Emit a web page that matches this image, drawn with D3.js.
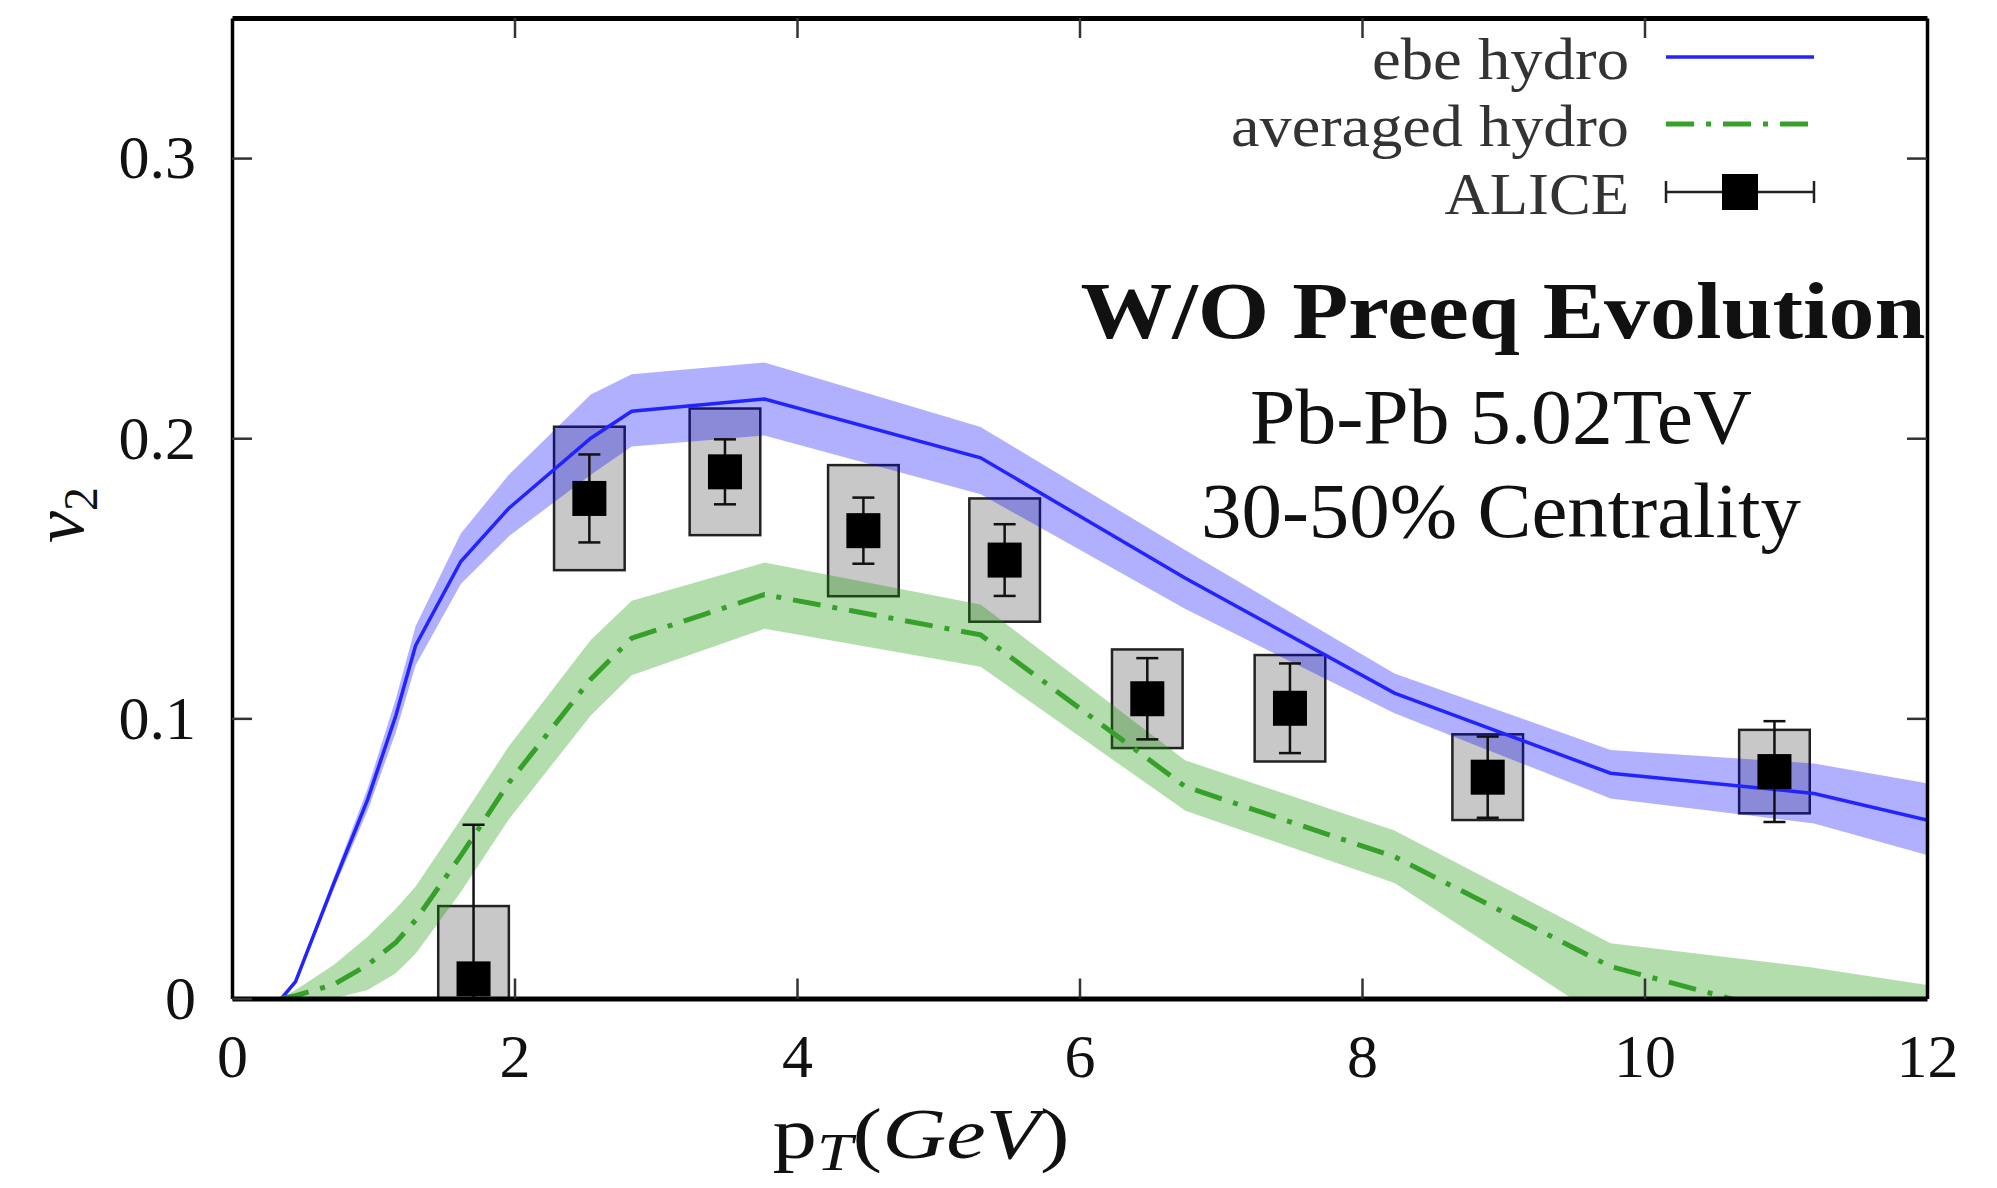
<!DOCTYPE html>
<html>
<head>
<meta charset="utf-8">
<script src="https://cdn.jsdelivr.net/npm/d3@7"></script>
<style>
  body { margin: 0; background: #fff; }
  svg { display: block; }
  text { font-family: "Liberation Serif", "Times New Roman", serif; }
</style>
</head>
<body>
<div id="chart"></div>
<script>
// hydro curves share one pT grid
const hydroPt = [0.35, 0.45, 0.72, 0.96, 1.16, 1.30, 1.62, 1.96, 2.54, 2.83, 3.77, 5.30, 6.75, 8.23, 9.76, 11.2, 12.0];
const ebeV2 = [0, 0.006, 0.041, 0.071, 0.101, 0.126, 0.156, 0.175, 0.200, 0.2096, 0.214, 0.193, 0.150, 0.109, 0.0804, 0.0732, 0.0637];
const ebeHi = [0, 0.007, 0.043, 0.075, 0.107, 0.133, 0.166, 0.187, 0.2156, 0.2228, 0.227, 0.204, 0.160, 0.116, 0.0887, 0.0839, 0.0768];
const ebeLo = [0, 0.005, 0.039, 0.067, 0.095, 0.119, 0.148, 0.165, 0.187, 0.197, 0.201, 0.180, 0.139, 0.1018, 0.0714, 0.0625, 0.0512];
const avgV2 = [0, 0.001, 0.005, 0.012, 0.020, 0.028, 0.051, 0.077, 0.114, 0.1286, 0.1442, 0.1298, 0.0756, 0.0506, 0.0114, -0.008, -0.019];
const avgHi = [0, 0.003, 0.012, 0.022, 0.032, 0.040, 0.064, 0.090, 0.128, 0.142, 0.1556, 0.1406, 0.085, 0.060, 0.0197, 0.011, 0.0048];
const avgLo = [0, 0, 0, 0.003, 0.009, 0.016, 0.038, 0.064, 0.101, 0.1154, 0.132, 0.1184, 0.067, 0.0412, -0.009, -0.02, -0.03];

// ALICE data
const alicePt = [1.71, 2.53, 3.49, 4.47, 5.47, 6.48, 7.49, 8.89, 10.92];
const aliceV2 = [0.007, 0.1785, 0.188, 0.167, 0.1565, 0.107, 0.1036, 0.079, 0.081];
const aliceStat = [0.055, 0.0157, 0.0116, 0.0118, 0.0128, 0.0145, 0.016, 0.0145, 0.018];
const aliceSys = [0.026, 0.0256, 0.0226, 0.0234, 0.022, 0.0176, 0.019, 0.0153, 0.0149];

const xTicks = [0, 2, 4, 6, 8, 10, 12];
const yTicks = [0, 0.1, 0.2, 0.3];
const legendLabels = ["ebe hydro", "averaged hydro", "ALICE"];
const annotLines = ["Pb-Pb 5.02TeV", "30-50% Centrality"];

const W = 1997, H = 1188;
const X0 = 232, X1 = 1927, Y0 = 998.5, Y1 = 18;
const BLUE = "#2323ff", GREEN = "#36a02a";
const DASH = "28,12,5,12";

const svg = d3.select("#chart").append("svg").attr("width", W).attr("height", H);

const x = d3.scaleLinear().domain([0, 12]).range([X0, X1]);
const y = d3.scaleLinear().domain([0, 0.35]).range([Y0, Y1]);

svg.append("defs").append("clipPath").attr("id", "plot")
    .append("rect").attr("x", X0).attr("y", Y1).attr("width", X1 - X0).attr("height", Y0 - Y1);

const plot = svg.append("g").attr("clip-path", "url(#plot)");

const alice = alicePt.map((p, i) => ({ pt: p, v: aliceV2[i], stat: aliceStat[i], sys: aliceSys[i] }));
const hydro = hydroPt.map((p, i) => ({
    pt: p, ebe: ebeV2[i], ebeLo: ebeLo[i], ebeHi: ebeHi[i],
    avg: avgV2[i], avgLo: avgLo[i], avgHi: avgHi[i]
}));

// systematic boxes
plot.selectAll("rect.sys").data(alice).join("rect")
    .attr("class", "sys")
    .attr("x", d => x(d.pt - 0.25))
    .attr("width", d => x(d.pt + 0.25) - x(d.pt - 0.25))
    .attr("y", d => y(d.v + d.sys))
    .attr("height", d => y(d.v - d.sys) - y(d.v + d.sys))
    .attr("fill", "#c8c8c8")
    .attr("stroke", "#222")
    .attr("stroke-width", 2.5);

// bands
const ebeArea = d3.area().x(d => x(d.pt)).y0(d => y(d.ebeLo)).y1(d => y(d.ebeHi));
const avgArea = d3.area().x(d => x(d.pt)).y0(d => y(d.avgLo)).y1(d => y(d.avgHi));
plot.append("path").datum(hydro).attr("d", ebeArea).attr("fill", "#0000ff").attr("fill-opacity", 0.31);
plot.append("path").datum(hydro).attr("d", avgArea).attr("fill", "rgb(20,150,0)").attr("fill-opacity", 0.32);

// central lines
const ebeLine = d3.line().x(d => x(d.pt)).y(d => y(d.ebe));
const avgLine = d3.line().x(d => x(d.pt)).y(d => y(d.avg));
plot.append("path").datum(hydro).attr("d", ebeLine)
    .attr("fill", "none").attr("stroke", BLUE).attr("stroke-width", 3.5);
plot.append("path").datum(hydro).attr("d", avgLine)
    .attr("fill", "none").attr("stroke", GREEN).attr("stroke-width", 5)
    .attr("stroke-dasharray", DASH);

// stat error bars + markers
const pts = plot.selectAll("g.pt").data(alice).join("g").attr("class", "pt");
pts.append("line")
    .attr("x1", d => x(d.pt)).attr("x2", d => x(d.pt))
    .attr("y1", d => y(d.v - d.stat)).attr("y2", d => y(d.v + d.stat))
    .attr("stroke", "#111").attr("stroke-width", 2.5);
[-1, 1].forEach(s => {
    pts.append("line")
        .attr("x1", d => x(d.pt) - 11).attr("x2", d => x(d.pt) + 11)
        .attr("y1", d => y(d.v + s * d.stat)).attr("y2", d => y(d.v + s * d.stat))
        .attr("stroke", "#111").attr("stroke-width", 2.5);
});
pts.append("rect")
    .attr("x", d => x(d.pt) - 17).attr("y", d => y(d.v) - 17.5)
    .attr("width", 34).attr("height", 35)
    .attr("fill", "#000");

// axes
function styleAxis(g, w) {
    g.attr("font-family", "Liberation Serif, serif").attr("font-size", 62);
    g.select(".domain").attr("stroke", "#000").attr("stroke-width", w);
    g.selectAll(".tick line").attr("stroke", "#333").attr("stroke-width", 2.5);
    g.selectAll(".tick text").attr("fill", "#111");
}
const fmtY = d => d === 0 ? "0" : d3.format(".1f")(d);

svg.append("g").attr("transform", `translate(0,${Y0})`)
    .call(d3.axisBottom(x).tickValues(xTicks).tickSizeInner(-20).tickSizeOuter(0).tickPadding(34).tickFormat(d3.format("d")))
    .call(g => styleAxis(g, 5));
svg.append("g").attr("transform", `translate(0,${Y1})`)
    .call(d3.axisTop(x).tickValues(xTicks.slice(1, -1)).tickSizeInner(-20).tickSizeOuter(0).tickFormat(""))
    .call(g => styleAxis(g, 5));
svg.append("g").attr("transform", `translate(${X0},0)`)
    .call(d3.axisLeft(y).tickValues(yTicks).tickSizeInner(-20).tickSizeOuter(0).tickPadding(36).tickFormat(fmtY))
    .call(g => styleAxis(g, 3.5));
svg.append("g").attr("transform", `translate(${X1},0)`)
    .call(d3.axisRight(y).tickValues(yTicks.slice(1)).tickSizeInner(-20).tickSizeOuter(0).tickFormat(""))
    .call(g => styleAxis(g, 3.5));

// axis titles
const xl = svg.append("text")
    .attr("x", 921).attr("y", 1158)
    .attr("text-anchor", "middle").attr("font-size", 72).attr("fill", "#111");
xl.append("tspan").text("p");
xl.append("tspan").attr("font-style", "italic").attr("font-size", 52).attr("dy", 12).text("T");
xl.append("tspan").attr("dy", -12).text("(");
xl.append("tspan").attr("font-style", "italic").text("GeV");
xl.append("tspan").text(")");
xl.attr("textLength", 297).attr("lengthAdjust", "spacingAndGlyphs");

const yl = svg.append("text")
    .attr("transform", "translate(83,515) rotate(-90)")
    .attr("text-anchor", "middle").attr("font-size", 72).attr("fill", "#111");
yl.append("tspan").attr("font-style", "italic").text("v");
yl.append("tspan").attr("font-size", 48).attr("dy", 14).text("2");

// legend
const legendY = [57, 124, 192];
const legendW = [257, 398, 184.5];
const LX0 = 1666, LX1 = 1814;
const legend = svg.append("g");
legend.selectAll("text").data(legendLabels).join("text")
    .attr("x", 1629).attr("y", (d, i) => legendY[i] + 22)
    .attr("text-anchor", "end").attr("font-size", 60).attr("fill", "#333")
    .attr("textLength", (d, i) => legendW[i]).attr("lengthAdjust", "spacingAndGlyphs")
    .text(d => d);
legend.append("line").attr("x1", LX0).attr("x2", LX1).attr("y1", legendY[0]).attr("y2", legendY[0])
    .attr("stroke", BLUE).attr("stroke-width", 3.5);
legend.append("line").attr("x1", LX0).attr("x2", LX1).attr("y1", legendY[1]).attr("y2", legendY[1])
    .attr("stroke", GREEN).attr("stroke-width", 5).attr("stroke-dasharray", DASH);
legend.append("line").attr("x1", LX0).attr("x2", LX1).attr("y1", legendY[2]).attr("y2", legendY[2])
    .attr("stroke", "#222").attr("stroke-width", 2.5);
[LX0, LX1].forEach(cx => {
    legend.append("line").attr("x1", cx).attr("x2", cx)
        .attr("y1", legendY[2] - 11).attr("y2", legendY[2] + 11)
        .attr("stroke", "#222").attr("stroke-width", 2.5);
});
legend.append("rect").attr("x", (LX0 + LX1) / 2 - 18).attr("y", legendY[2] - 18)
    .attr("width", 36).attr("height", 36).attr("fill", "#000");

// annotation
svg.append("text")
    .attr("x", 1503).attr("y", 338).attr("text-anchor", "middle")
    .attr("font-size", 81).attr("font-weight", "bold").attr("fill", "#111")
    .attr("textLength", 845).attr("lengthAdjust", "spacingAndGlyphs")
    .text("W/O Preeq Evolution");
const annotY = [443, 537];
const annotW = [502, 600];
svg.selectAll("text.annot").data(annotLines).join("text")
    .attr("class", "annot")
    .attr("x", 1501).attr("y", (d, i) => annotY[i]).attr("text-anchor", "middle")
    .attr("font-size", 79).attr("fill", "#111")
    .attr("textLength", (d, i) => annotW[i]).attr("lengthAdjust", "spacingAndGlyphs")
    .text(d => d);
</script>
</body>
</html>
